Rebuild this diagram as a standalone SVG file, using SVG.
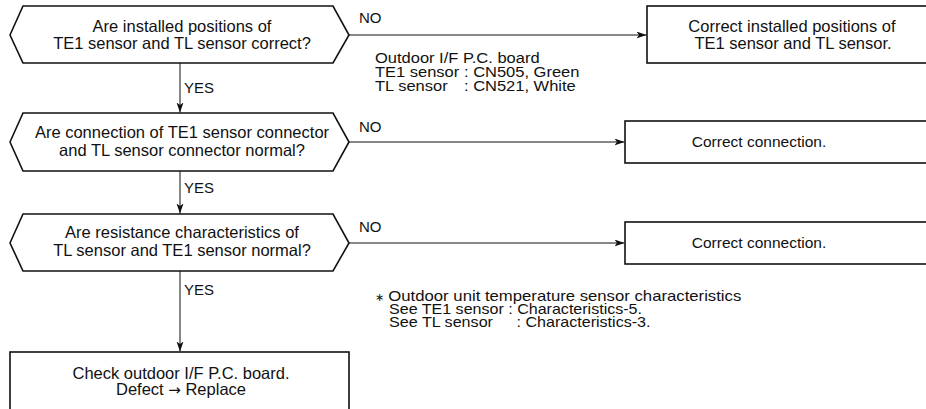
<svg xmlns="http://www.w3.org/2000/svg" width="926" height="409" viewBox="0 0 926 409">
<style>
  text { font-family: "Liberation Sans", Arial, sans-serif; font-size: 16.5px; fill: #111; }
  .c { text-anchor: middle; }
  .lbl { font-size: 15px; }
  .sm { font-size: 15.5px; }
  .note { font-size: 15px; }
  .ast { font-size: 11px; }
  .arrow { font-family: "DejaVu Sans", sans-serif; font-size: 15px; }
  .shape { fill: #fff; stroke: #111; stroke-width: 1.6; }
  .line { fill: none; stroke: #111; stroke-width: 1; }
</style>
<defs>
  <marker id="arr" markerUnits="userSpaceOnUse" markerWidth="11" markerHeight="8" refX="10" refY="3.5" orient="auto">
    <path d="M0,0 L10,3.5 L0,7 L2.5,3.5 z" fill="#111"/>
  </marker>
</defs>

<g id="connectors">
  <line class="line" x1="180" y1="63" x2="180" y2="112.5" marker-end="url(#arr)"/>
  <line class="line" x1="180" y1="171" x2="180" y2="213.5" marker-end="url(#arr)"/>
  <line class="line" x1="180" y1="271" x2="180" y2="351.5" marker-end="url(#arr)"/>
  <line class="line" x1="349" y1="35" x2="646.5" y2="35" marker-end="url(#arr)"/>
  <line class="line" x1="349" y1="142" x2="624.5" y2="142" marker-end="url(#arr)"/>
  <line class="line" x1="349" y1="243" x2="624.5" y2="243" marker-end="url(#arr)"/>
  <text class="lbl" x="359" y="23">NO</text>
  <text class="lbl" x="359" y="132">NO</text>
  <text class="lbl" x="359" y="232">NO</text>
  <text class="lbl" x="184" y="93">YES</text>
  <text class="lbl" x="184" y="193">YES</text>
  <text class="lbl" x="184" y="295">YES</text>
</g>

<g id="q1">
  <polygon class="shape" points="10,35 23,6 333,6 349,35 333,63 23,63"/>
  <text class="c" x="182" y="32">Are installed positions of</text>
  <text class="c" x="182" y="49">TE1 sensor and TL sensor correct?</text>
</g>

<g id="q2">
  <polygon class="shape" points="10,142 23,113 333,113 349,142 333,171 23,171"/>
  <text class="c" x="182" y="138">Are connection of TE1 sensor connector</text>
  <text class="c" x="182" y="156">and TL sensor connector normal?</text>
</g>

<g id="q3">
  <polygon class="shape" points="10,243 23,214 333,214 349,243 333,271 23,271"/>
  <text class="c" x="182" y="238">Are resistance characteristics of</text>
  <text class="c" x="182" y="256">TL sensor and TE1 sensor normal?</text>
</g>

<g id="a1">
  <rect class="shape" x="647" y="6" width="300" height="57"/>
  <text class="c" x="792" y="32">Correct installed positions of</text>
  <text class="c" x="793" y="49">TE1 sensor and TL sensor.</text>
</g>

<g id="a2">
  <rect class="shape" x="625" y="121" width="320" height="42"/>
  <text class="c sm" x="759" y="146.5">Correct connection.</text>
</g>

<g id="a3">
  <rect class="shape" x="625" y="222" width="320" height="42"/>
  <text class="c sm" x="759" y="247.5">Correct connection.</text>
</g>

<g id="a4">
  <rect class="shape" x="10" y="352" width="339" height="80"/>
  <text class="c" x="181" y="379">Check outdoor I/F P.C. board.</text>
  <text class="c" x="181" y="395">Defect <tspan class="arrow">→</tspan> Replace</text>
</g>

<g id="note1" transform="scale(1.1 1)">
  <text class="note" x="340.9" y="63">Outdoor I/F P.C. board</text>
  <text class="note" x="340.9" y="77">TE1 sensor</text>
  <text class="note" x="421.8" y="77">: CN505, Green</text>
  <text class="note" x="340.9" y="91">TL sensor</text>
  <text class="note" x="421.8" y="91">: CN521, White</text>
</g>

<g id="note2">
  <text class="ast" x="375" y="301">∗</text>
  <text class="note" x="388.3" y="301" textLength="353" lengthAdjust="spacingAndGlyphs">Outdoor unit temperature sensor characteristics</text>
  <text class="note" x="389" y="314" textLength="253" lengthAdjust="spacingAndGlyphs">See TE1 sensor : Characteristics-5.</text>
  <text class="note" x="389" y="327" textLength="104" lengthAdjust="spacingAndGlyphs">See TL sensor</text>
  <text class="note" x="516.5" y="327" textLength="134" lengthAdjust="spacingAndGlyphs">: Characteristics-3.</text>
</g>
</svg>
